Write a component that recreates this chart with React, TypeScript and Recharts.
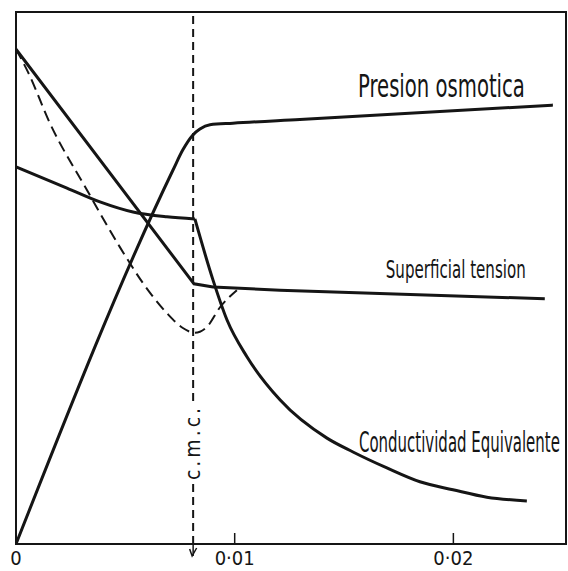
import { useLayoutEffect, useRef, useState } from 'react';
import { LineChart, Line, XAxis, YAxis, ReferenceLine, ReferenceArea, ReferenceDot } from 'recharts';

// concentration (x) and relative property value (y, 0-100 of the frame height)
const osmoticX = [0, 0.00718, 0.00763, 0.00809, 0.00841, 0.00887, 0.00992, 0.01298, 0.02455];
const osmoticY = [0, 70.3, 74.1, 76.9, 78.0, 78.8, 79.1, 79.8, 82.5];

const tensionX = [0, 0.00814, 0.00901, 0.01207, 0.02418];
const tensionY = [93.0, 48.9, 48.3, 47.7, 46.1];

const impureX = [0, 0.00055, 0.00155, 0.00325, 0.00475, 0.00613, 0.0069, 0.00763, 0.00818, 0.00873, 0.00933, 0.0101];
const impureY = [93.0, 88.7, 79.1, 66.5, 55.8, 47.2, 43.4, 40.6, 39.7, 40.8, 44.5, 47.7];

const condPreX = [0, 0.00233, 0.00384, 0.00535, 0.0069, 0.00818];
const condPreY = [70.9, 66.9, 64.3, 62.4, 61.5, 61.1];
const condPostX = [0.00818, 0.00901, 0.00965, 0.01056, 0.01207, 0.01422, 0.01541, 0.01696, 0.01847, 0.01998, 0.02153, 0.02336];
const condPostY = [61.1, 49.6, 42.1, 35.2, 27.1, 19.9, 17.3, 14.3, 11.7, 10.2, 8.8, 8.1];

const xTicks = [0, 0.01, 0.02];
const CMC = 0.0081;

// curve names, anchored at their right end
const labelText = ['Presion osmotica', 'Superficial tension', 'Conductividad Equivalente'];
const labelX = [0.02327, 0.02331, 0.02487];
const labelY = [84.0, 50.0, 17.3];

const X_MAX = 0.02515;
const INK = '#151515';
const FONT = "'Liberation Sans Narrow', 'DejaVu Sans Condensed', 'Open Sans', sans-serif";
const labelStyle = [
  { size: 32, len: 167 },
  { size: 25, len: 140 },
  { size: 28, len: 201 },
];

const zip = (xs: number[], ys: number[]) => xs.map((x, i) => ({ x, y: ys[i] }));

const fmtTick = (v: number) => (v === 0 ? '0' : v.toFixed(2).replace('.', '·'));

// squeezes a text horizontally so it spans `width` px (the original uses a very narrow face)
function NarrowText({ x, y, width, size, text }: { x: number; y: number; width: number; size: number; text: string }) {
  const ref = useRef<SVGTextElement>(null);
  const [k, setK] = useState(0.68);
  useLayoutEffect(() => {
    if (ref.current) {
      const w = ref.current.getComputedTextLength();
      if (w > 0) setK(width / w);
    }
  }, [width, text, size]);
  return (
    <text
      ref={ref}
      x={0}
      y={0}
      transform={`translate(${x} ${y}) scale(${k} 1)`}
      textAnchor="end"
      fontSize={size}
      fill={INK}
      fontFamily={FONT}
    >
      {text}
    </text>
  );
}

const renderTick = (props: any) => {
  const { x, y, payload } = props;
  return (
    <text x={x} y={y} dy="0.71em" textAnchor="middle" fontSize={20} fill={INK} fontFamily={FONT}>
      {fmtTick(payload.value)}
    </text>
  );
};

const cmcLabel = (props: any) => {
  const { x, y, height } = props.viewBox;
  const bottom = y + height;
  const cy = bottom - 100;
  return (
    <g>
      <rect x={x - 8} y={cy - 38} width={16} height={76} fill="#fff" />
      <text
        x={x}
        y={cy}
        transform={`rotate(-90 ${x} ${cy})`}
        textAnchor="middle"
        dy="0.35em"
        fontSize={21}
        textLength={72}
        lengthAdjust="spacing"
        fill={INK}
        fontFamily={FONT}
      >
        c.m.c.
      </text>
      <line x1={x} y1={bottom} x2={x} y2={bottom + 12} stroke={INK} strokeWidth={1.5} />
      <path d={`M${x - 3.5},${bottom + 5} L${x - 1},${bottom + 12} L${x + 3.5},${bottom + 4}`} fill="none" stroke={INK} strokeWidth={1.5} />
    </g>
  );
};

const textLabel = (i: number) => (props: any) => {
  const { x, y } = props.viewBox;
  return <NarrowText x={x} y={y} width={labelStyle[i].len} size={labelStyle[i].size} text={labelText[i]} />;
};

export default function App() {
  return (
    <div style={{ position: 'absolute', left: 0, top: 0, width: 568, height: 571, background: '#fff' }}>
      <LineChart width={568} height={571} margin={{ top: 12, right: 2, left: 16, bottom: 0 }}>
        <XAxis
          type="number"
          dataKey="x"
          domain={[0, X_MAX]}
          ticks={xTicks}
          allowDataOverflow
          height={27}
          axisLine={{ stroke: INK, strokeWidth: 2 }}
          tickLine={{ stroke: INK, strokeWidth: 1.5 }}
          tickSize={-11}
          tickMargin={18}
          tick={renderTick}
          interval={0}
        />
        <YAxis type="number" dataKey="y" domain={[0, 100]} hide allowDataOverflow />
        <ReferenceArea x1={0} x2={X_MAX} y1={0} y2={100} fill="none" stroke={INK} strokeWidth={2} />
        <ReferenceLine x={CMC} stroke={INK} strokeWidth={2} strokeDasharray="8 5" label={cmcLabel} />
        <Line data={zip(osmoticX, osmoticY)} dataKey="y" type="monotone" stroke={INK} strokeWidth={3} dot={false} isAnimationActive={false} />
        <Line data={zip(tensionX, tensionY)} dataKey="y" type="linear" stroke={INK} strokeWidth={3} dot={false} isAnimationActive={false} />
        <Line data={zip(impureX, impureY)} dataKey="y" type="monotone" stroke={INK} strokeWidth={2} strokeDasharray="11 6" dot={false} isAnimationActive={false} />
        <Line data={zip(condPreX, condPreY)} dataKey="y" type="monotone" stroke={INK} strokeWidth={3} dot={false} isAnimationActive={false} />
        <Line data={zip(condPostX, condPostY)} dataKey="y" type="monotone" stroke={INK} strokeWidth={3} dot={false} isAnimationActive={false} />
        {labelText.map((t, i) => (
          <ReferenceDot key={t} x={labelX[i]} y={labelY[i]} r={0} fill="none" stroke="none" label={textLabel(i)} />
        ))}
      </LineChart>
    </div>
  );
}
